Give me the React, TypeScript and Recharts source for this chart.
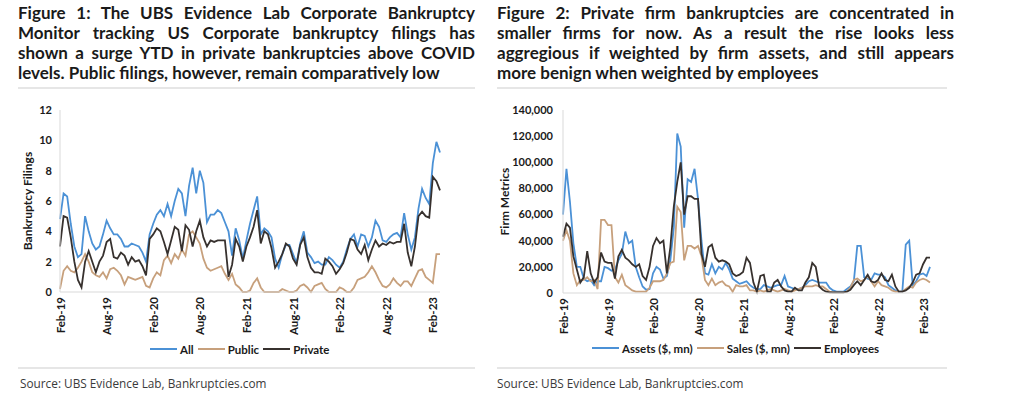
import { LineChart, Line, XAxis, YAxis, Legend, Label } from 'recharts';

// bi-weekly observations, Feb-19 .. Mar-23
const tickIdx = [0, 13, 26, 39, 52, 65, 78, 91, 104];
const tickLabels = ['Feb-19', 'Aug-19', 'Feb-20', 'Aug-20', 'Feb-21', 'Aug-21', 'Feb-22', 'Aug-22', 'Feb-23'];

const allFilings = [
  4.8, 6.5, 6.3, 4.5, 3.0, 2.3, 2.5, 5.0, 4.0, 3.2, 2.8, 3.0, 3.8, 4.7, 4.2, 3.8, 3.8, 3.5, 3.0, 3.0,
  3.2, 3.1, 3.0, 2.6, 2.0, 3.8, 4.5, 5.1, 5.4, 5.0, 5.8, 5.0, 6.0, 6.8, 6.5, 5.0, 7.0, 8.2, 6.5, 8.0,
  7.2, 4.6, 5.1, 5.1, 5.4, 5.2, 4.6, 4.0, 2.4, 4.2, 3.4, 2.2, 3.4, 4.5, 5.4, 6.3, 3.8, 4.2, 4.0, 3.6,
  2.2, 1.6, 2.5, 3.1, 3.1, 2.5, 1.9, 3.2, 4.0, 2.6, 2.3, 1.9, 2.0, 1.8, 1.8, 2.3, 2.1, 1.8, 1.6, 2.0,
  2.8, 3.5, 3.8, 3.0, 3.8, 3.7, 3.0, 3.6, 4.7, 4.3, 3.4, 3.3, 3.6, 3.8, 3.9, 3.6, 5.2, 3.8, 2.8, 3.6,
  5.5, 6.8, 6.2, 5.8, 8.5, 9.9, 9.2,
];
const publicFilings = [
  0.2, 1.4, 1.7, 1.4, 1.3, 1.6, 2.0, 2.5, 2.0, 1.3, 1.1, 1.0, 1.3, 0.9, 1.5, 1.6, 1.4, 1.1, 0.5, 1.0,
  0.9, 0.8, 0.9, 1.0, 0.4, 0.3, 0.9, 1.3, 1.1, 2.1, 2.4, 1.9, 2.5, 2.2, 2.8, 2.4, 3.8, 4.0, 3.6, 3.2,
  2.2, 1.6, 1.4, 1.5, 1.6, 1.7, 1.2, 0.8, 1.2, 0.5, 0.3, 0.0, 0.0, 0.1, 0.6, 0.9, 0.3, 0.0, 0.0, 0.0,
  0.0, 0.0, 0.2, 0.1, 0.0, 0.0, 0.1, 0.4, 0.5, 0.3, 0.0, 0.4, 0.5, 0.6, 0.2, 0.0, 0.0, 0.0, 0.3, 0.2,
  0.0, 0.0, 0.3, 0.8, 0.9, 1.0, 1.3, 1.7, 1.3, 0.8, 0.4, 0.3, 0.5, 0.9, 0.6, 0.4, 0.7, 0.7, 0.4, 0.9,
  1.4, 1.5, 1.0, 0.8, 0.6, 2.5, 2.5,
];
const privateFilings = [
  3.0, 5.0, 4.9, 3.6, 2.0, 0.8, 0.3, 2.0, 2.7, 2.0, 1.3, 2.0, 2.4, 3.3, 3.5, 2.3, 2.2, 2.6, 2.4, 1.8,
  2.3, 2.0, 2.1, 1.7, 1.1, 3.5, 3.8, 4.2, 4.0, 3.3, 2.5, 3.4, 4.3, 4.1, 2.7, 4.4, 4.1, 3.0, 4.0, 4.7,
  3.6, 3.0, 3.4, 3.3, 3.4, 3.4, 3.4, 1.0, 1.8, 3.5, 3.0, 2.0, 3.0, 3.6, 4.3, 5.4, 3.2, 4.0, 3.8, 2.9,
  1.6, 2.0, 2.5, 3.2, 3.0, 2.2, 1.8, 3.1, 3.6, 2.3, 1.6, 1.3, 1.3, 1.2, 2.2, 2.0, 1.7, 1.2, 1.5, 1.9,
  2.6, 3.5, 3.4, 2.8, 2.5, 3.1, 2.1, 2.8, 3.4, 3.0, 3.2, 3.1, 3.3, 3.2, 3.3, 3.3, 4.5, 2.6, 1.7, 3.0,
  5.0, 5.3, 5.0, 4.9, 7.6, 7.3, 6.7,
];

const assets = [
  60000, 95000, 70000, 38000, 20000, 20000, 11000, 9000, 10000, 6000, 9000, 9000, 20000, 19000, 17000, 18000, 25000, 30000, 47000, 38000,
  40000, 20000, 12000, 5000, 2500, 3000, 15000, 20000, 18000, 11000, 13000, 25000, 50000, 122000, 112000, 50000, 87000, 85000, 95000, 72000,
  40000, 15000, 14000, 22000, 15000, 20000, 18000, 23000, 18000, 11000, 9000, 7000, 8000, 9000, 6000, 4000, 3000, 3000, 6000, 5000,
  4000, 5000, 6000, 6000, 13000, 5000, 4000, 3000, 3000, 4000, 6000, 9000, 10000, 9000, 8000, 8000, 8000, 4000, 2000, 1000,
  1000, 1000, 3000, 5000, 9000, 36000, 36000, 12000, 11000, 10000, 15000, 14000, 14000, 12000, 6000, 4000, 2000, 1000, 1000, 37000,
  40000, 6000, 9000, 14000, 15000, 13000, 20000,
];
const sales = [
  40000, 48000, 40000, 15000, 6000, 10000, 10000, 12000, 9000, 10000, 3000, 56000, 56000, 52000, 52000, 12000, 8000, 14000, 6000, 4000,
  2000, 1000, 1000, 1000, 1000, 4000, 9000, 9000, 9000, 10000, 15000, 23000, 24000, 66000, 62000, 25000, 36000, 36000, 34000, 36000,
  28000, 10000, 6000, 11000, 6000, 8000, 9000, 6000, 5000, 1000, 6000, 5000, 5000, 6000, 2000, 2000, 1000, 2000, 1000, 2000,
  3000, 2000, 1000, 2000, 3000, 2000, 1000, 2000, 3000, 4000, 5000, 5000, 5000, 6000, 5000, 5000, 3000, 1000, 500, 500,
  500, 500, 1000, 4000, 10000, 11000, 9000, 10000, 13000, 9000, 5000, 9000, 6000, 5000, 4000, 2000, 1000, 1000, 1000, 3000,
  5000, 4000, 8000, 10000, 11000, 10000, 8000,
];
const employees = [
  43000, 53000, 50000, 28000, 18000, 8000, 12000, 32000, 15000, 8000, 12000, 31000, 24000, 23000, 23000, 11000, 28000, 33000, 27000, 25000,
  22000, 20000, 22000, 13000, 10000, 20000, 36000, 42000, 38000, 40000, 15000, 35000, 66000, 85000, 100000, 60000, 74000, 74000, 72000, 72000,
  30000, 20000, 35000, 37000, 27000, 24000, 25000, 24000, 22000, 15000, 13000, 14000, 16000, 27000, 23000, 8000, 1000, 13000, 14000, 1000,
  1000, 8000, 10000, 5000, 2000, 1000, 1000, 4000, 2000, 2000, 8000, 12000, 23000, 20000, 5000, 2500, 1000, 500, 500, 500,
  500, 500, 1000, 2500, 6000, 9000, 6000, 10000, 14000, 9000, 8000, 10000, 15000, 10000, 9000, 14000, 5000, 1000, 1000, 2000,
  4000, 8000, 14000, 15000, 22000, 27000, 27000,
];

const leftTitle = [
  'Figure 1: The UBS Evidence Lab Corporate Bankruptcy',
  'Monitor tracking US Corporate bankruptcy filings has',
  'shown a surge YTD in private bankruptcies above COVID',
  'levels. Public filings, however, remain comparatively low',
];
const rightTitle = [
  'Figure 2: Private firm bankruptcies are concentrated in',
  'smaller firms for now. As a result the rise looks less',
  'aggregious if weighted by firm assets, and still appears',
  'more benign when weighted by employees',
];
const sourceText = 'Source: UBS Evidence Lab, Bankruptcies.com';

const BLUE = '#4b91d6';
const TAN = '#c7a07c';
const DARK = '#37312e';
const AXIS = '#d9d9d9';
const FONT = "Lato, 'Open Sans', sans-serif";

const filingsData = allFilings.map((v, i) => ({ i, all: v, pub: publicFilings[i], priv: privateFilings[i] }));
const firmData = assets.map((v, i) => ({ i, assets: v, sales: sales[i], employees: employees[i] }));

const filingsOrder = ['All', 'Public', 'Private'];
const firmOrder = ['Assets ($, mn)', 'Sales ($, mn)', 'Employees'];

const XTick = ({ x, y, payload }: any) => (
  <text x={x} y={y} transform={`rotate(-90, ${x}, ${y})`} textAnchor="end" dominantBaseline="central"
    fontFamily={FONT} fontWeight={700} fontSize={11.5} fill="#1a1a1a">
    {tickLabels[tickIdx.indexOf(payload.value)]}
  </text>
);

const LegendContent = ({ payload }: any) => (
  <div style={{ display: 'flex', alignItems: 'center', height: 14, fontFamily: FONT, fontWeight: 700, fontSize: 11.5, color: '#1a1a1a' }}>
    {payload.map((p: any) => (
      <span key={p.value} style={{ display: 'flex', alignItems: 'center', marginRight: 4 }}>
        <span style={{ display: 'inline-block', width: 27, height: 2, background: p.color, marginRight: 3 }} />
        {p.value}
      </span>
    ))}
  </div>
);

const Title = ({ lines, left }: { lines: string[]; left: number }) => (
  <div style={{ position: 'absolute', left, top: 3, width: 457, fontFamily: FONT, fontWeight: 700, fontSize: 17, lineHeight: '20px', color: '#1a1a1a' }}>
    {lines.map((l, k) => (
      <div key={k} style={{ textAlign: 'justify', textAlignLast: k < lines.length - 1 ? 'justify' : 'left', whiteSpace: 'nowrap' }}>{l}</div>
    ))}
  </div>
);

const Rule = ({ left, top, width }: { left: number; top: number; width: number }) => (
  <div style={{ position: 'absolute', left, top, width, height: 2, background: '#e6e6e6' }} />
);

const Source = ({ left }: { left: number }) => (
  <div style={{ position: 'absolute', left, top: 375, fontFamily: "'Open Sans', sans-serif", fontSize: 11.8, color: '#3a3a3a' }}>
    {sourceText}
  </div>
);

export default function App() {
  return (
    <div style={{ position: 'absolute', left: 0, top: 0, width: 1026, height: 399, background: '#fff', overflow: 'hidden' }}>
      <Title lines={leftTitle} left={18} />
      <Title lines={rightTitle} left={497} />
      <Rule left={18} top={87} width={457} />
      <Rule left={497} top={87} width={450} />

      <div style={{ position: 'absolute', left: 0, top: 95 }}>
        <LineChart width={450} height={270} data={filingsData} margin={{ top: 15, right: 10, left: 0, bottom: 9 }}>
          <XAxis dataKey="i" type="number" domain={[0, 106]} ticks={tickIdx} interval={0} height={50}
            tick={<XTick />} tickLine={false} tickSize={0} tickMargin={5} axisLine={{ stroke: AXIS }} />
          <YAxis domain={[0, 12]} ticks={[0, 2, 4, 6, 8, 10, 12]} width={60} tickLine={false} tickSize={0} tickMargin={8}
            axisLine={{ stroke: AXIS }} tick={{ fontFamily: FONT, fontWeight: 700, fontSize: 11, fill: '#1a1a1a' }}>
            <Label value="Bankruptcy Filings" angle={-90} position="center" dx={-2}
              style={{ fontFamily: FONT, fontWeight: 700, fontSize: 12, fill: '#1a1a1a' }} />
          </YAxis>
          <Legend verticalAlign="bottom" content={<LegendContent />} wrapperStyle={{ left: 150, width: 'auto' }}
            itemSorter={(item: any) => filingsOrder.indexOf(item.value)} />
          <Line dataKey="all" name="All" stroke={BLUE} strokeWidth={1.8} dot={false} isAnimationActive={false} />
          <Line dataKey="pub" name="Public" stroke={TAN} strokeWidth={1.8} dot={false} isAnimationActive={false} />
          <Line dataKey="priv" name="Private" stroke={DARK} strokeWidth={1.8} dot={false} isAnimationActive={false} />
        </LineChart>
      </div>

      <div style={{ position: 'absolute', left: 470, top: 95 }}>
        <LineChart width={470} height={270} data={firmData} margin={{ top: 15, right: 10, left: 0, bottom: 10 }}>
          <XAxis dataKey="i" type="number" domain={[0, 106]} ticks={tickIdx} interval={0} height={48}
            tick={<XTick />} tickLine={false} tickSize={0} tickMargin={5} axisLine={{ stroke: AXIS }} />
          <YAxis domain={[0, 140000]} ticks={[0, 20000, 40000, 60000, 80000, 100000, 120000, 140000]} width={93}
            tickFormatter={(v: number) => v.toLocaleString('en-US')} tickLine={false} tickSize={0} tickMargin={10}
            axisLine={{ stroke: AXIS }} tick={{ fontFamily: FONT, fontWeight: 700, fontSize: 11, fill: '#1a1a1a' }}>
            <Label value="Firm Metrics" angle={-90} position="center" dx={-12}
              style={{ fontFamily: FONT, fontWeight: 700, fontSize: 12, fill: '#1a1a1a' }} />
          </YAxis>
          <Legend verticalAlign="bottom" content={<LegendContent />} wrapperStyle={{ left: 122, width: 'auto' }}
            itemSorter={(item: any) => firmOrder.indexOf(item.value)} />
          <Line dataKey="assets" name="Assets ($, mn)" stroke={BLUE} strokeWidth={1.8} dot={false} isAnimationActive={false} />
          <Line dataKey="sales" name="Sales ($, mn)" stroke={TAN} strokeWidth={1.8} dot={false} isAnimationActive={false} />
          <Line dataKey="employees" name="Employees" stroke={DARK} strokeWidth={1.8} dot={false} isAnimationActive={false} />
        </LineChart>
      </div>

      <Rule left={18} top={367} width={457} />
      <Rule left={497} top={367} width={450} />
      <Source left={20} />
      <Source left={497} />
    </div>
  );
}
